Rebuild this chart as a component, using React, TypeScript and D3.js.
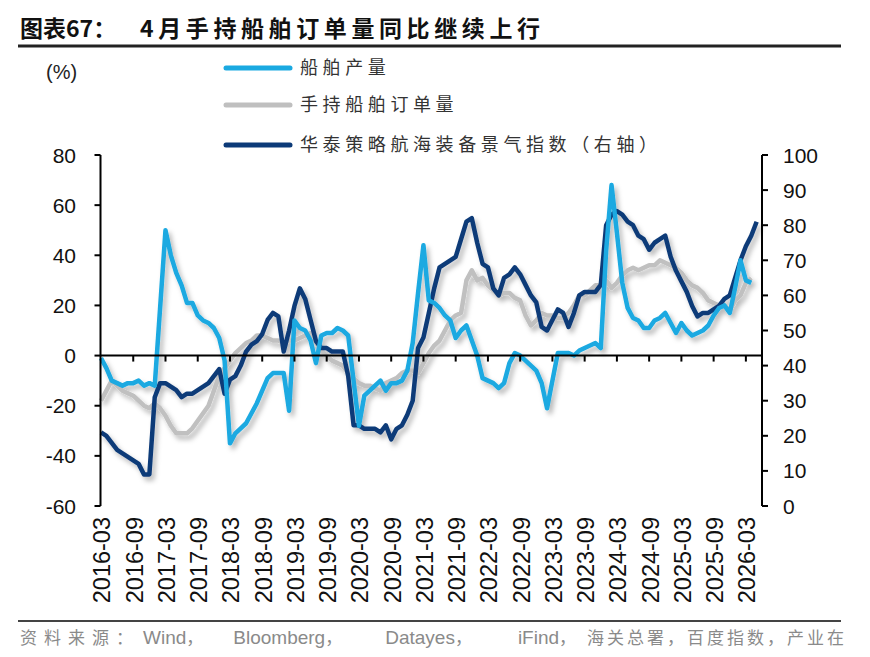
import React from "react";
import * as d3 from "d3";

// months run 2016-03 .. 2026-05, one point per month
const startMonth = new Date(2016, 2, 1);

const tickLabels = [
  "2016-03", "2016-09", "2017-03", "2017-09", "2018-03", "2018-09", "2019-03",
  "2019-09", "2020-03", "2020-09", "2021-03", "2021-09", "2022-03", "2022-09",
  "2023-03", "2023-09", "2024-03", "2024-09", "2025-03", "2025-09", "2026-03",
];

// 船舶产量 yoy (%), left axis
const production = [
  -1, -5, -10, -11, -12, -11, -11, -10, -12, -11,
  -12, 19, 50, 40, 33, 28, 21, 21, 16, 14,
  13, 11, 7, -2, -35, -31, -29, -27, -23, -19,
  -14, -9, -7, -7, -7, -22, 14, 11, 10, 6,
  -3, 8, 9, 9, 11, 10, 8, -10, -28, -16,
  -14, -12, -10, -14, -11, -11, -10, -6, 5, 25,
  44, 22, 21, 19, 16, 14, 7, 10, 12, 6,
  0, -9, -10, -11, -13, -11, -3, 1, 0, -2,
  -4, -6, -11, -21, -10, 1, 1, 1, 0, 2,
  3, 4, 5, 3, 42, 68, 49, 29, 19, 15,
  14, 11, 11, 14, 15, 17, 13, 9, 13, 10,
  8, 9, 10, 12, 16, 19, 20, 17, 27, 38,
  30, 29,
];

// 手持船舶订单量 yoy (%), left axis
const orderbook = [
  -18, -14, -10, -12, -14, -15, -16, -18, -20, -21,
  -19, -21, -24, -28, -31, -31, -31, -29, -26, -23,
  -20, -14, -8, -5, -2, 1, 3, 5, 6, 8,
  8, 7, 6, 6, 5, 6, 6, 7, 8, 9,
  5, 2, 0, -2, -3, -4, -7, -9, -11, -12,
  -12, -13, -14, -11, -10, -9, -7, -6, -6, -7,
  -3, 1, 4, 6, 10, 14, 16, 17, 30, 34,
  30, 31, 28, 26, 24, 25, 25, 23, 22, 16,
  12, 14, 17, 16, 16, 15, 15, 17, 20, 24,
  24, 26, 28, 28, 30, 27, 29, 32, 34, 35,
  34, 35, 36, 36, 38, 37, 36, 35, 33, 30,
  28, 27, 25, 22, 21, 20, 20, 18, 22, 24,
  29, 31,
];

// 华泰策略航海装备景气指数, right axis
const sentiment = [
  21, 20, 18, 16, 15, 14, 13, 12, 9, 9,
  31, 35, 35, 34, 33, 31, 32, 32, 33, 34,
  35, 37, 39, 32, 36, 37, 40, 44, 46, 47,
  49, 53, 55, 54, 44, 50, 57, 62, 59, 53,
  47, 45, 45, 44, 44, 44, 37, 23, 23, 22,
  22, 22, 21, 23, 19, 22, 23, 26, 30, 45,
  48, 55, 62, 68, 69, 70, 71, 76, 81, 82,
  75, 69, 68, 62, 60, 65, 66, 68, 66, 63,
  60, 58, 51, 50, 53, 56, 55, 51, 55, 60,
  61, 61, 61, 63, 80, 83, 84, 83, 81, 80,
  77, 76, 73, 75, 76, 77, 71, 67, 64, 61,
  57, 54, 55, 55, 56, 57, 59, 60, 65, 70,
  74, 77, 81,
];

const leftTicks = [80, 60, 40, 20, 0, -20, -40, -60];
const rightTicks = [100, 90, 80, 70, 60, 50, 40, 30, 20, 10, 0];

const legendItems = [
  { name: "船舶产量", color: "#1aa9e1" },
  { name: "手持船舶订单量", color: "#bfbfbf" },
  { name: "华泰策略航海装备景气指数（右轴）", color: "#0c3a78" },
];

// footer pieces: [text, gap before, latin?, letter spacing]
const sourceParts: [string, number, boolean, number][] = [
  ["资料来源：", 0, false, 7],
  ["Wind", 3, true, 0],
  ["，", 0, false, 7],
  ["Bloomberg", 23, true, 0],
  ["，", 0, false, 7],
  ["Datayes", 36, true, 0],
  ["，", 0, false, 7],
  ["iFind", 39, true, 0],
  ["，", 0, false, 3],
  ["海关总署，百度指数，产业在", 8, false, 3],
];

const W = 870;
const H = 657;
const plot = { left: 100.5, right: 762, top: 155, bottom: 506 };
const CJK = "'Noto Sans CJK SC', sans-serif";
const NUM = "'Liberation Sans', Arial, sans-serif";

export default function App() {
  const monthIndex = (label: string) => {
    const [y, m] = label.split("-").map(Number);
    return d3.timeMonth.count(startMonth, new Date(y, m - 1, 1));
  };

  const x = d3.scaleLinear().domain([0, 123]).range([101, 762]);
  const yL = d3.scaleLinear().domain([-60, 80]).range([plot.bottom, plot.top]);
  const yR = d3.scaleLinear().domain([0, 100]).range([plot.bottom, plot.top]);

  const lineL = d3
    .line<number>()
    .x((_, i) => x(i))
    .y((d) => yL(d));
  const lineR = d3
    .line<number>()
    .x((_, i) => x(i))
    .y((d) => yR(d));

  const zeroY = yL(0);

  return (
    <div>
      <style>{"body{margin:0}"}</style>
      <svg width={W} height={H} style={{ display: "block", background: "#fff" }}>
        <defs>
          <filter id="shadow" x="-10%" y="-10%" width="120%" height="130%">
            <feDropShadow dx="3" dy="4" stdDeviation="2.5" floodColor="#000" floodOpacity="0.28" />
          </filter>
        </defs>

        {/* title */}
        <text x={20} y={37} fontFamily={CJK} fontWeight="bold" fontSize={23} fill="#111">
          图表67：
        </text>
        <text
          x={140}
          y={37}
          fontFamily={CJK}
          fontWeight="bold"
          fontSize={23}
          fill="#111"
          textLength={400}
          lengthAdjust="spacing"
        >
          4月手持船舶订单量同比继续上行
        </text>
        <line x1={18} x2={841} y1={46} y2={46} stroke="#222" strokeWidth={3} />

        {/* unit */}
        <text x={46} y={79} fontFamily={NUM} fontSize={20} fill="#222">
          (%)
        </text>

        {/* legend */}
        {legendItems.map((d, i) => {
          const ly = [68, 105, 145][i];
          return (
            <g key={d.name}>
              <line x1={226} x2={290} y1={ly} y2={ly} stroke={d.color} strokeWidth={5} strokeLinecap="round" />
              <text
                x={300}
                y={ly + 6}
                fontFamily={CJK}
                fontSize={18}
                letterSpacing={4.6}
                fill="#333"
              >
                {d.name}
              </text>
            </g>
          );
        })}

        {/* series */}
        <g filter="url(#shadow)" fill="none" strokeWidth={4.5} strokeLinejoin="round">
          <path d={lineL(orderbook) || ""} stroke="#c0c0c0" />
          <path d={lineR(sentiment) || ""} stroke="#0c3a78" />
          <path d={lineL(production) || ""} stroke="#1aa9e1" />
        </g>

        {/* left axis */}
        <g stroke="#000" strokeWidth={2}>
          <line x1={plot.left} x2={plot.left} y1={plot.top} y2={plot.bottom} />
          {leftTicks.map((t) => (
            <line key={t} x1={plot.left - 6} x2={plot.left} y1={yL(t)} y2={yL(t)} />
          ))}
        </g>
        {leftTicks.map((t) => (
          <text
            key={t}
            x={76}
            y={yL(t)}
            dy="0.36em"
            textAnchor="end"
            fontFamily={NUM}
            fontSize={21}
            fill="#111"
          >
            {t}
          </text>
        ))}

        {/* right axis */}
        <g stroke="#000" strokeWidth={2}>
          <line x1={plot.right} x2={plot.right} y1={plot.top} y2={plot.bottom} />
          {rightTicks.map((t) => (
            <line key={t} x1={plot.right} x2={plot.right + 6} y1={yR(t)} y2={yR(t)} />
          ))}
        </g>
        {rightTicks.map((t) => (
          <text
            key={t}
            x={783}
            y={yR(t)}
            dy="0.36em"
            textAnchor="start"
            fontFamily={NUM}
            fontSize={21}
            fill="#111"
          >
            {t}
          </text>
        ))}

        {/* x axis at zero */}
        <g stroke="#000" strokeWidth={2}>
          <line x1={plot.left} x2={plot.right} y1={zeroY} y2={zeroY} />
          {tickLabels.slice(1).map((lab) => (
            <line key={lab} x1={x(monthIndex(lab))} x2={x(monthIndex(lab))} y1={zeroY} y2={zeroY + 6} />
          ))}
        </g>
        {tickLabels.map((lab) => (
          <text
            key={lab}
            transform={`translate(${x(monthIndex(lab)) + 1},${517}) rotate(-90)`}
            textAnchor="end"
            dy="0.36em"
            fontFamily={NUM}
            fontSize={23.5}
            fill="#111"
          >
            {lab}
          </text>
        ))}

        {/* footer */}
        <line x1={18} x2={841} y1={621} y2={621} stroke="#444" strokeWidth={2} />
        <text x={20} y={644} fill="#8a8a8a">
          {sourceParts.map(([t, gap, latin, ls], i) => (
            <tspan
              key={i}
              dx={gap}
              fontFamily={latin ? NUM : CJK}
              fontSize={latin ? 19 : 17}
              letterSpacing={ls}
            >
              {t}
            </tspan>
          ))}
        </text>
      </svg>
    </div>
  );
}
